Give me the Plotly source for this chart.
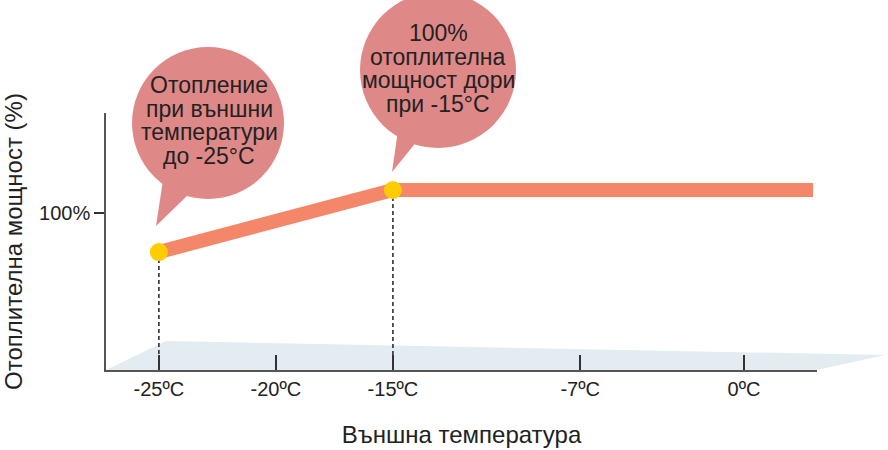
import plotly.graph_objects as go

# ---- data ----
temps = [-25, -15, 2.95]           # outside temperature (°C)
capacity = [83, 110, 110]          # heating capacity (%)
marker_temps = [-25, -15]
marker_capacity = [83, 110]

tick_vals = [-25, -20, -15, -7, 0]
tick_text = ["-25ºC", "-20ºC", "-15ºC", "-7ºC", "0ºC"]
y_tick_vals = [100]
y_tick_text = ["100%"]

bubble1_lines = ["Отопление", "при външни", "температури", "до -25°C"]
bubble2_lines = ["100%", "отоплителна", "мощност дори", "при -15°C"]

x_range = [-27.26, 3.12]
y_range = [31.7, 143.5]

# plot-area geometry (window pixels)
L, R, T, B = 106, 817, 113, 370
W, H = R - L, B - T
FIG_W, FIG_H = 888, 450


def px(x):
    return (x - L) / W


def py(y):
    return (B - y) / H


LINE_C = "#f4876a"
DOT_C = "#ffcc00"
BUB_C = "#df8888"
TXT = "#222222"
FONT = "Liberation Sans, Arial"

fig = go.Figure()

# dashed drop lines
for t, c in zip(marker_temps, marker_capacity):
    fig.add_trace(go.Scatter(x=[t, t], y=[c, y_range[0]], mode="lines",
                             line=dict(color="#222", width=1.5, dash="4px,3px"),
                             hoverinfo="skip", showlegend=False))

fig.add_trace(go.Scatter(x=temps, y=capacity, mode="lines",
                         line=dict(color=LINE_C, width=14),
                         showlegend=False))
fig.add_trace(go.Scatter(x=marker_temps, y=marker_capacity, mode="markers",
                         marker=dict(color=DOT_C, size=18, line=dict(width=0)),
                         showlegend=False))

shapes = []
# floor
shapes.append(dict(type="path", xref="paper", yref="paper", layer="below",
                   path=f"M {px(106)} {py(370)} L {px(166)} {py(341)} L {px(885)} {py(355)} L {px(817)} {py(370)} Z",
                   fillcolor="#e3ecf0", line=dict(width=0)))


def bubble(cx, cy, r, tail):
    out = [dict(type="circle", xref="paper", yref="paper",
                x0=px(cx - r), x1=px(cx + r), y0=py(cy + r), y1=py(cy - r),
                fillcolor=BUB_C, line=dict(width=0))]
    p = "M " + " L ".join(f"{px(a)} {py(b)}" for a, b in tail) + " Z"
    out.append(dict(type="path", xref="paper", yref="paper", path=p,
                    fillcolor=BUB_C, line=dict(width=0)))
    return out


shapes += bubble(208, 123, 76, [(163, 180), (156, 226), (190, 193)])
shapes += bubble(438, 70, 78, [(398, 130), (392, 172), (418, 140)])

annotations = []
for lines, cx, ys in [(bubble1_lines, 209, [85, 109, 132, 156]),
                      (bubble2_lines, 438, [33, 57, 80, 104])]:
    for txt, yy in zip(lines, ys):
        annotations.append(dict(xref="paper", yref="paper", x=px(cx), y=py(yy), text=txt,
                                showarrow=False, borderpad=0,
                                font=dict(family=FONT, size=23, color=TXT),
                                xanchor="center", yanchor="middle"))

fig.update_layout(
    width=FIG_W, height=FIG_H,
    margin=dict(l=L, r=FIG_W - R, t=T, b=FIG_H - B, autoexpand=False),
    paper_bgcolor="white", plot_bgcolor="rgba(0,0,0,0)",
    shapes=shapes, annotations=annotations,
    font=dict(family=FONT, color=TXT),
    xaxis=dict(range=x_range, tickvals=tick_vals, ticktext=tick_text,
               ticks="inside", ticklen=15, tickwidth=1.5, tickcolor="#333",
               showline=True, linecolor="#555", linewidth=1.5,
               showgrid=False, zeroline=False,
               tickfont=dict(family="Liberation Sans Narrow, Liberation Sans", size=20, color=TXT),
               title=dict(text="Външна температура", standoff=27,
                          font=dict(family=FONT, size=24, color=TXT))),
    yaxis=dict(range=y_range, tickvals=y_tick_vals, ticktext=y_tick_text,
               ticks="outside", ticklen=10, tickwidth=1.5, tickcolor="#333",
               showline=True, linecolor="#555", linewidth=1.5,
               showgrid=False, zeroline=False,
               tickfont=dict(family=FONT, size=20, color=TXT),
               title=dict(text="Отоплителна мощност (%)", standoff=22,
                          font=dict(family=FONT, size=24, color=TXT))),
)

fig.write_html("out.html", config={"displayModeBar": False},
               post_script="document.body.style.margin='0';document.body.style.overflow='hidden';")
